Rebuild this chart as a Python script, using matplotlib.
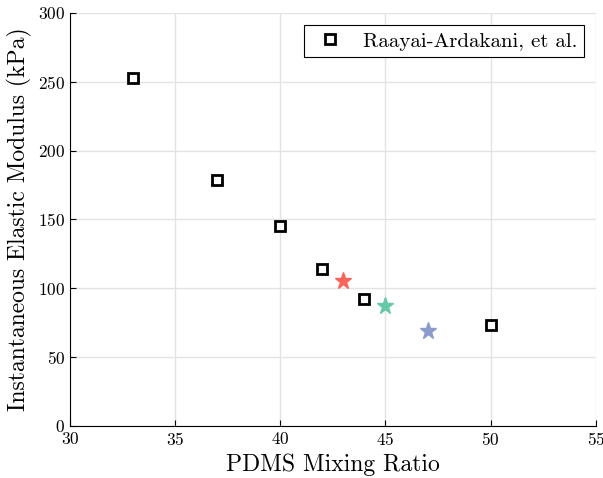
import matplotlib
matplotlib.use("Agg")
import matplotlib.pyplot as plt

plt.rcParams["font.family"] = "serif"
plt.rcParams["font.serif"] = ["cmr10", "DejaVu Serif"]
plt.rcParams["axes.formatter.use_mathtext"] = True
plt.rcParams["mathtext.fontset"] = "cm"

# reference measurements (Raayai-Ardakani, et al.)
ref_ratio = [33, 37, 40, 42, 44, 50]
ref_modulus = [252.5, 178.5, 145, 114, 92, 73.5]

# our samples, one star each
sample_ratio = [43, 45, 47]
sample_modulus = [105, 87, 69]
sample_colors = ["#f8665a", "#66c9a5", "#8b9bcc"]

fig = plt.figure(figsize=(6.03, 4.78), dpi=100)
ax = fig.add_axes([0.116, 0.109, 0.872, 0.864])

ax.plot(ref_ratio, ref_modulus, ls="none", marker="s", ms=7, mfc="white",
        mec="black", mew=2.0, label="Raayai-Ardakani, et al.", zorder=3)
for x, y, c in zip(sample_ratio, sample_modulus, sample_colors):
    ax.plot(x, y, ls="none", marker="*", ms=12.5, color=c, mec=c, zorder=3)

ax.set_xlim(30, 55)
ax.set_ylim(0, 300)
ax.set_xticks(range(30, 56, 5))
ax.set_yticks(range(0, 301, 50))
ax.grid(True, color="#e3e3e3", lw=1.0)
ax.set_axisbelow(True)
for s in ("top", "right"):
    ax.spines[s].set_visible(False)
ax.tick_params(direction="in", length=4, labelsize=12.5, width=0.8)
ax.set_xlabel("PDMS Mixing Ratio", fontsize=17)
ax.set_ylabel("Instantaneous Elastic Modulus (kPa)", fontsize=17)

leg = ax.legend(loc="upper right", fontsize=15, frameon=True, fancybox=False,
                edgecolor="black", framealpha=1, handlelength=1.9,
                handletextpad=0.6, borderpad=0.32, borderaxespad=0,
                bbox_to_anchor=(0.977, 0.97))
leg.get_frame().set_linewidth(0.8)

fig.savefig("out.png", dpi=100)
